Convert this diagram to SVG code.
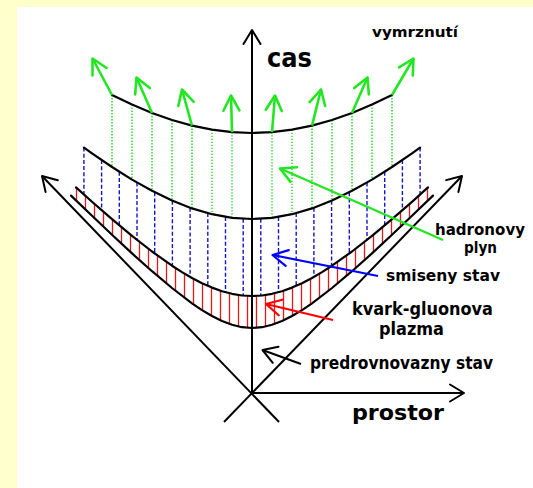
<svg xmlns="http://www.w3.org/2000/svg" width="533" height="488" viewBox="0 0 533 488">
<defs>
<style>
.curve{fill:none;stroke:#000;stroke-width:2.2;stroke-linejoin:round;stroke-linecap:round}
.axis{fill:none;stroke:#000;stroke-width:2}
.blue{stroke:#1515c8;stroke-width:1.4;stroke-dasharray:4 2.2}
.green{stroke:#2fd82f;stroke-width:1.5;stroke-dasharray:1.4 1.6}
.red{stroke:#e81818;stroke-width:1.3}
.frz{fill:none;stroke:#22e622;stroke-width:2.6;marker-end:url(#ag)}
.lbl{font-family:"DejaVu Sans",sans-serif;font-weight:bold;fill:#000}
</style>
<marker id="ak" viewBox="-20 -12 24 24" refX="0" refY="0" markerWidth="24" markerHeight="24" markerUnits="userSpaceOnUse" orient="auto">
<path d="M-14,-8.5 L0,0 L-14,8.5" fill="none" stroke="#000" stroke-width="2" stroke-linecap="round" stroke-linejoin="round"/>
</marker>
<marker id="ag" viewBox="-20 -12 24 24" refX="0" refY="0" markerWidth="24" markerHeight="24" markerUnits="userSpaceOnUse" orient="auto">
<path d="M-15,-8 L0,0 L-15,8" fill="none" stroke="#22e622" stroke-width="2.6" stroke-linecap="round" stroke-linejoin="round"/>
</marker>
<marker id="ab" viewBox="-20 -12 24 24" refX="0" refY="0" markerWidth="24" markerHeight="24" markerUnits="userSpaceOnUse" orient="auto">
<path d="M-15,-8 L0,0 L-15,8" fill="none" stroke="#0000ff" stroke-width="2.2" stroke-linecap="round" stroke-linejoin="round"/>
</marker>
<marker id="ar" viewBox="-20 -12 24 24" refX="0" refY="0" markerWidth="24" markerHeight="24" markerUnits="userSpaceOnUse" orient="auto">
<path d="M-15,-8 L0,0 L-15,8" fill="none" stroke="#ff0000" stroke-width="2.2" stroke-linecap="round" stroke-linejoin="round"/>
</marker>
</defs>
<rect x="0" y="0" width="533" height="488" fill="#ffffcc"/>
<rect x="17" y="7" width="516" height="481" fill="#ffffff"/>

<g id="plasma-hatch">
<path class="red" d="M247.5,295.9V327.8M256.5,295.9V327.8M238.5,295V326.5M265.5,295V326.5M229.5,293.3V324M274.5,293.3V324M220.5,290.7V320.4M283.5,290.7V320.4M211.5,287.4V315.8M292.5,287.4V315.8M202.5,283.4V310.4M301.5,283.4V310.4M193.5,278.8V304.4M310.5,278.8V304.4M184.5,273.7V297.8M319.5,273.7V297.8M175.5,268V290.9M328.5,268V290.9M166.5,262V283.5M337.5,262V283.5M157.5,255.6V276M346.5,255.6V276M148.5,248.9V268.1M355.5,248.9V268.1M139.5,241.9V260.1M364.5,241.9V260.1M130.5,234.7V252M373.5,234.7V252M121.5,227.2V243.7M382.5,227.2V243.7M112.5,219.6V235.3M391.5,219.6V235.3M103.5,211.9V226.8M400.5,211.9V226.8M94.5,204V218.2M409.5,204V218.2M85.5,196V209.6M418.5,196V209.6M76.5,187.9V200.9M427.5,187.9V200.9"/>
</g>
<g id="mixed-hatch">
<path class="blue" d="M243.2,218.8V295.6M260.8,218.8V295.6M225.5,216.9V292.2M278.5,216.9V292.2M207.8,213.1V285.8M296.2,213.1V285.8M190.1,207.7V276.9M313.9,207.7V276.9M172.4,200.7V266M331.6,200.7V266M154.7,192.2V253.5M349.3,192.2V253.5M137,182.5V239.9M367,182.5V239.9M119.3,171.7V225.4M384.7,171.7V225.4M101.6,160V210.2M402.4,160V210.2M83.9,147.5V194.5M420.1,147.5V194.5"/>
</g>
<g id="hadron-hatch">
<path class="green" d="M252,133V219M232,132.2V217.8M272,132.2V217.8M212,129.7V214.2M292,129.7V214.2M192,125.6V208.4M312,125.6V208.4M172,120V200.5M332,120V200.5M152,113V190.8M352,113V190.8M132,104.6V179.6M372,104.6V179.6M112,95V167M392,95V167"/>
</g>

<g id="axes">
<path class="axis" d="M252,393V30" marker-end="url(#ak)"/>
<path class="axis" d="M252,393H464" marker-end="url(#ak)"/>
<path class="axis" d="M279,422L42,176" marker-end="url(#ak)"/>
<path class="axis" d="M224,422L462,176" marker-end="url(#ak)"/>
</g>

<g id="curves">
<path id="curve-qgp-lower" class="curve" d="M71,195.6L92,215.8L112,234.8L132,253.4L152,271.2L172,288L192,303.3L202,310.1L212,316L222,321L232,324.8L242,327.2L252,328L262,327.2L272,324.8L282,321L292,316L302,310.1L312,303.3L332,288L352,271.2L372,253.4L392,234.8L412,215.8L433,195.6"/>
<path id="curve-qgp-upper" class="curve" d="M76,187.4L92,201.8L112,219.2L132,235.9L152,251.5L172,265.7L182,272.1L192,278L202,283.2L212,287.6L222,291.2L232,293.8L242,295.5L252,296L262,295.5L272,293.8L282,291.2L292,287.6L302,283.2L312,278L322,272.1L332,265.7L352,251.5L372,235.9L392,219.2L412,201.8L428,187.4"/>
<path id="curve-hadron-lower" class="curve" d="M84,147.6L92,153.3L112,167L132,179.6L152,190.8L172,200.5L192,208.4L212,214.2L232,217.8L252,219L272,217.8L292,214.2L312,208.4L332,200.5L352,190.8L372,179.6L392,167L412,153.3L420,147.6"/>
<path id="curve-freezeout" class="curve" d="M112,95L132,104.6L152,113L172,120L192,125.6L212,129.7L232,132.2L252,133L272,132.2L292,129.7L312,125.6L332,120L352,113L372,104.6L392,95"/>
</g>

<g id="freezeout-arrows">
<path class="frz" d="M112,95L92.5,58.5"/>
<path class="frz" d="M152,113L136.5,77.5"/>
<path class="frz" d="M192,125.6L182,89.5"/>
<path class="frz" d="M232,132.2L231,95.5"/>
<path class="frz" d="M272,132.2L275,95.5"/>
<path class="frz" d="M312,125.6L321,89.5"/>
<path class="frz" d="M352,113L367.5,77.5"/>
<path class="frz" d="M392,95L413.5,58.5"/>
</g>

<g id="connectors">
<path d="M443,240L280,168.5" fill="none" stroke="#22e622" stroke-width="2.4" marker-end="url(#ag)"/>
<path d="M378,276L272.5,255" fill="none" stroke="#0000ff" stroke-width="2.2" marker-end="url(#ab)"/>
<path d="M333,320L266,304" fill="none" stroke="#ff0000" stroke-width="2.2" marker-end="url(#ar)"/>
<path d="M301,364L262.5,350" fill="none" stroke="#000" stroke-width="2" marker-end="url(#ak)"/>
</g>

<g id="label-vymrznuti"><text class="lbl" x="372" y="37" font-size="14.5" textLength="86" lengthAdjust="spacingAndGlyphs">vymrznutí</text></g>
<g id="label-cas"><text class="lbl" x="267" y="67" font-size="26" textLength="45" lengthAdjust="spacingAndGlyphs">cas</text></g>
<g id="label-hadronovy"><text class="lbl" x="435" y="235" font-size="15" textLength="90" lengthAdjust="spacingAndGlyphs">hadronovy</text><text class="lbl" x="464" y="252.5" font-size="15" textLength="33" lengthAdjust="spacingAndGlyphs">plyn</text></g>
<g id="label-smiseny"><text class="lbl" x="386" y="280.5" font-size="16.5" textLength="114" lengthAdjust="spacingAndGlyphs">smiseny stav</text></g>
<g id="label-kvark"><text class="lbl" x="352" y="315" font-size="17" textLength="141" lengthAdjust="spacingAndGlyphs">kvark-gluonova</text><text class="lbl" x="379" y="335" font-size="17" textLength="65" lengthAdjust="spacingAndGlyphs">plazma</text></g>
<g id="label-predrovnovazny"><text class="lbl" x="310" y="369" font-size="17" textLength="183" lengthAdjust="spacingAndGlyphs">predrovnovazny stav</text></g>
<g id="label-prostor"><text class="lbl" x="352" y="420" font-size="21" textLength="92" lengthAdjust="spacingAndGlyphs">prostor</text></g>
</svg>
